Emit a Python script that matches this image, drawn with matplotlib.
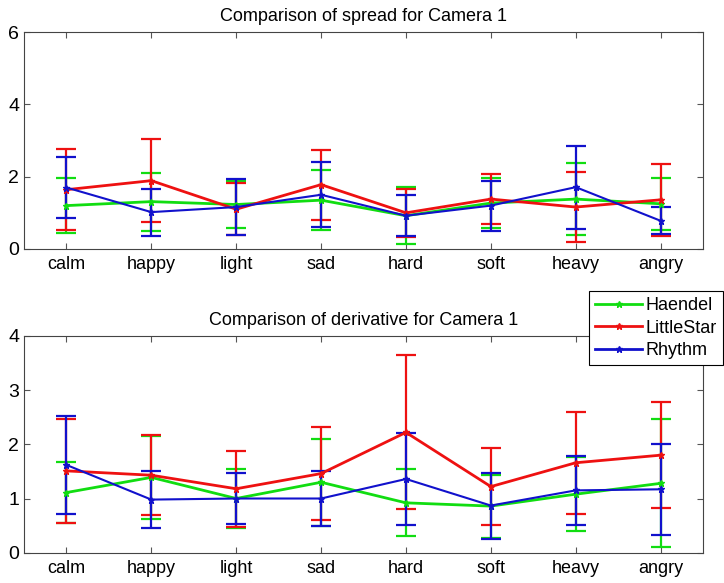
import matplotlib
matplotlib.use('Agg')
import matplotlib.pyplot as plt
from matplotlib.lines import Line2D

plt.rcParams.update({'font.family': ['Liberation Sans', 'DejaVu Sans'],
                     'xtick.direction': 'in',
                     'ytick.direction': 'in',
                     'xtick.top': True,
                     'ytick.right': True,
                     'xtick.labelsize': 13,
                     'ytick.labelsize': 14})

emotions = ['calm', 'happy', 'light', 'sad', 'hard', 'soft', 'heavy', 'angry']
series = ['Haendel', 'LittleStar', 'Rhythm']
colors = ['#11dd11', '#ee1111', '#1111cc']
widths = [2.0, 2.0, 1.5]

# spread: means and symmetric errors
spread_mean = {
    'Haendel':    [1.20, 1.31, 1.23, 1.35, 0.92, 1.27, 1.38, 1.25],
    'LittleStar': [1.64, 1.89, 1.10, 1.78, 1.00, 1.38, 1.16, 1.36],
    'Rhythm':     [1.70, 1.02, 1.16, 1.50, 0.92, 1.20, 1.71, 0.78],
}
spread_err = {
    'Haendel':    [0.76, 0.80, 0.65, 0.83, 0.79, 0.70, 0.99, 0.72],
    'LittleStar': [1.12, 1.15, 0.72, 0.97, 0.67, 0.70, 0.97, 1.00],
    'Rhythm':     [0.85, 0.65, 0.78, 0.90, 0.57, 0.69, 1.15, 0.37],
}

# derivative: means and symmetric errors
deriv_mean = {
    'Haendel':    [1.11, 1.39, 1.00, 1.30, 0.92, 0.86, 1.08, 1.28],
    'LittleStar': [1.51, 1.43, 1.18, 1.46, 2.22, 1.22, 1.66, 1.80],
    'Rhythm':     [1.62, 0.98, 1.00, 1.00, 1.36, 0.87, 1.15, 1.17],
}
deriv_err = {
    'Haendel':    [0.56, 0.77, 0.54, 0.80, 0.62, 0.58, 0.68, 1.18],
    'LittleStar': [0.96, 0.74, 0.70, 0.86, 1.42, 0.71, 0.94, 0.98],
    'Rhythm':     [0.90, 0.53, 0.47, 0.50, 0.84, 0.61, 0.63, 0.84],
}

fig = plt.figure(figsize=(7.24, 5.83), dpi=100)
ax1 = fig.add_axes([0.0331, 0.5729, 0.938, 0.3722])
ax2 = fig.add_axes([0.0331, 0.052, 0.938, 0.3717])

x = list(range(1, len(emotions) + 1))


def draw(ax, means, errs, ymax, title):
    for name, c, lw in zip(series, colors, widths):
        ax.errorbar(x, means[name], yerr=errs[name], color=c, lw=lw,
                    elinewidth=1.6, capsize=7, capthick=1.6,
                    marker='*', markersize=5)
    ax.set_xlim(0.5, 8.5)
    ax.set_ylim(0, ymax)
    ax.set_yticks(range(0, ymax + 1, 2 if ymax == 6 else 1))
    ax.set_xticks(x)
    ax.set_xticklabels(emotions)
    ax.tick_params(length=4, width=0.8, colors='#555555', labelcolor='black')
    ax.tick_params(axis='x', pad=5)
    ax.set_title(title, fontsize=13, pad=8)
    for s in ax.spines.values():
        s.set_color('#444444')


draw(ax1, spread_mean, spread_err, 6, 'Comparison of spread for Camera 1')
draw(ax2, deriv_mean, deriv_err, 4, 'Comparison of derivative for Camera 1')

handles = [Line2D([], [], color=c, lw=2, marker='*', markersize=5)
           for c in colors]
leg = fig.legend(handles, series, loc='upper right',
                 bbox_to_anchor=(0.999, 1 - 291 / 583), fontsize=13,
                 frameon=True, fancybox=False, framealpha=1,
                 edgecolor='black', borderpad=0.35, labelspacing=0.3,
                 handlelength=2.6, handletextpad=0.2, borderaxespad=0)
leg.get_frame().set_linewidth(0.8)

fig.savefig('out.png', dpi=100)
